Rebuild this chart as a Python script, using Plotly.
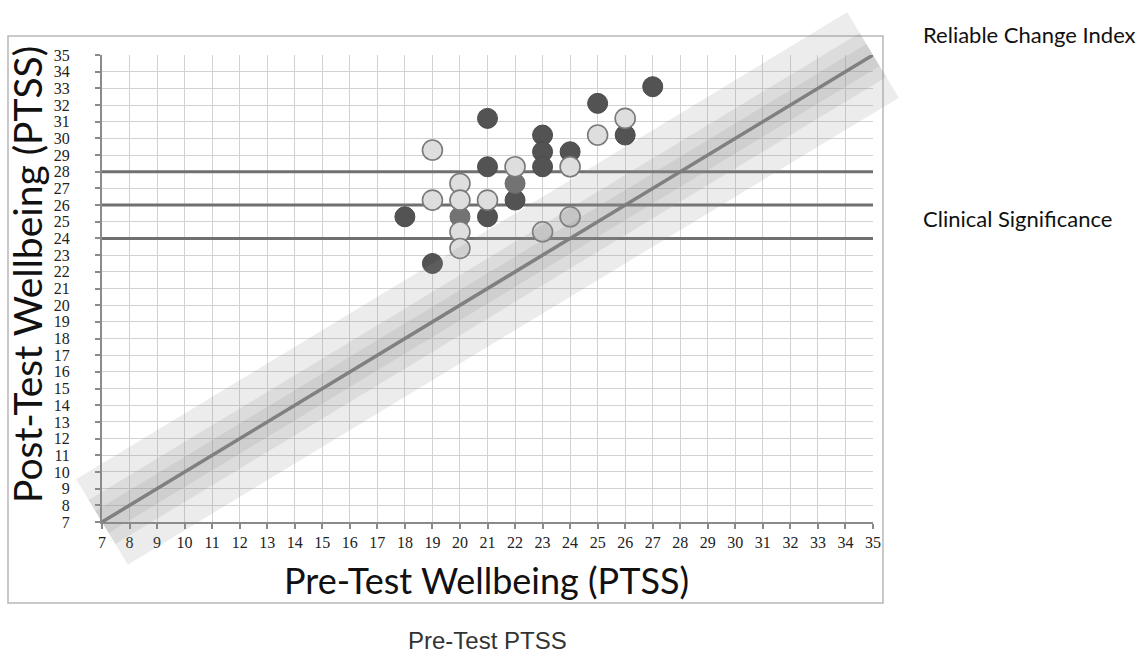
import plotly.graph_objects as go

# ---- data -------------------------------------------------------------
# participants, pre-test score (x) vs post-test score (y)
dark_x = [18, 19, 21, 21, 21, 22, 23, 23, 23, 24, 25, 26, 27]
dark_y = [25.3, 22.5, 31.2, 28.3, 25.3, 26.3, 30.2, 29.2, 28.3, 29.2, 32.1, 30.2, 33.1]

mid_x = [20, 22]
mid_y = [25.3, 27.3]

light_x = [19, 19, 20, 20, 20, 20, 21, 22, 23, 24, 24, 25, 26]
light_y = [29.3, 26.3, 27.3, 26.3, 24.4, 23.4, 26.3, 28.3, 24.4, 28.3, 25.3, 30.2, 31.2]

# clinical significance cut-offs (post-test score)
clinical_cutoffs = [24, 26, 28]

# reliable change bands around the no-change line (vertical half-widths, score units)
rci_halfwidths = [3.5, 1.8, 0.9]

axis_min, axis_max = 7, 35
tick_values = list(range(7, 36))

# ---- page geometry ----------------------------------------------------
W, H = 1139, 657
L, R, T, B = 102, 266, 55, 135
PW = W - L - R
PH = H - T - B
SPAN = axis_max - axis_min


def data_px(x, y):
    return (L + (x - axis_min) / SPAN * PW, T + (axis_max - y) / SPAN * PH)


def paper(px, py):
    return ((px - L) / PW, (T + PH - py) / PH)


fig = go.Figure()

# no-change diagonal
fig.add_trace(go.Scatter(
    x=[axis_min, axis_max], y=[axis_min, axis_max], mode="lines",
    line=dict(color="#767676", width=3.5), hoverinfo="skip", showlegend=False))

# clinical significance lines
for c in clinical_cutoffs:
    fig.add_trace(go.Scatter(
        x=[axis_min, axis_max], y=[c, c], mode="lines",
        line=dict(color="#707070", width=3), hoverinfo="skip", showlegend=False))

# participants
fig.add_trace(go.Scatter(
    x=dark_x, y=dark_y, mode="markers", showlegend=False,
    marker=dict(size=20, color="#535353", line=dict(color="#4a4a4a", width=1))))
fig.add_trace(go.Scatter(
    x=mid_x, y=mid_y, mode="markers", showlegend=False,
    marker=dict(size=20, color="#737373", line=dict(color="#6a6a6a", width=1))))
fig.add_trace(go.Scatter(
    x=light_x, y=light_y, mode="markers", showlegend=False,
    marker=dict(size=20, color="#dedede", line=dict(color="#7a7a7a", width=1.6))))

shapes = []

# outer frame around the chart
fx0, fy0 = paper(8, 36)
fx1, fy1 = paper(883, 603)
shapes.append(dict(type="rect", xref="paper", yref="paper",
                   x0=fx0, y0=fy1, x1=fx1, y1=fy0,
                   line=dict(color="#b8b8b8", width=1.5), layer="above"))

# reliable change bands: rectangles along the diagonal with square ends
p0 = data_px(axis_min, axis_min)
p1 = data_px(axis_max, axis_max)
dx, dy = p1[0] - p0[0], p1[1] - p0[1]
length = (dx * dx + dy * dy) ** 0.5
ux, uy = dx / length, dy / length
nx, ny = -uy, ux
unit_px = PH / SPAN
for hw in rci_halfwidths:
    w = hw * unit_px * abs(ux)
    corners = [
        (p0[0] + nx * w, p0[1] + ny * w),
        (p1[0] + nx * w, p1[1] + ny * w),
        (p1[0] - nx * w, p1[1] - ny * w),
        (p0[0] - nx * w, p0[1] - ny * w),
    ]
    pts = [paper(*c) for c in corners]
    path = "M " + " L ".join(f"{a:.5f},{b:.5f}" for a, b in pts) + " Z"
    shapes.append(dict(type="path", xref="paper", yref="paper", path=path,
                       fillcolor="rgba(140,140,140,0.17)", line=dict(width=0),
                       layer="above"))

annotations = []


def note(text, px, py, size, family, color="#111", xanchor="center",
         yanchor="middle", angle=0):
    ax, ay = paper(px, py)
    annotations.append(dict(text=text, x=ax, y=ay, xref="paper", yref="paper",
                            xanchor=xanchor, yanchor=yanchor, showarrow=False,
                            textangle=angle,
                            font=dict(size=size, family=family, color=color)))


note("Pre-Test Wellbeing (PTSS)", 486, 580, 36, "Lato")
note("Post-Test Wellbeing (PTSS)", 27, 275, 39, "Lato", angle=-90)
note("Pre-Test PTSS", 487, 656, 24, "Liberation Sans", color="#333",
     yanchor="bottom")
note("Reliable Change Index", 921, 35, 22, "Lato", xanchor="left")
note("Clinical Significance", 921, 218, 22, "Lato", xanchor="left")

axis_style = dict(
    range=[axis_min, axis_max], tickvals=tick_values,
    showgrid=True, gridcolor="#d2d2d2", gridwidth=1.3,
    showline=True, linecolor="#8a8a8a", linewidth=2,
    ticks="outside", ticklen=5, tickwidth=1.5, tickcolor="#8a8a8a",
    tickfont=dict(family="Liberation Serif", size=16, color="#222"),
    zeroline=False, fixedrange=True,
)

fig.update_layout(
    width=W, height=H,
    margin=dict(l=L, r=R, t=T, b=B, pad=0),
    paper_bgcolor="white", plot_bgcolor="white",
    xaxis=dict(axis_style, ticklabelstandoff=0),
    yaxis=dict(axis_style, ticklabelstandoff=22),
    shapes=shapes,
    annotations=annotations,
    showlegend=False,
)

fig.write_html("out.html")
